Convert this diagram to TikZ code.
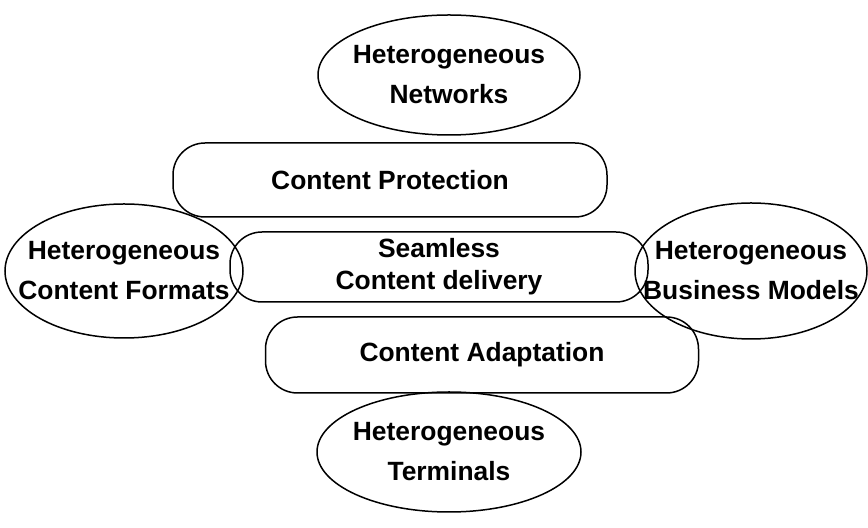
\documentclass[tikz,border=0pt]{standalone}
\usepackage{fontspec}
\setmainfont{Liberation Sans}
\usepackage{tikz}
\usetikzlibrary{shapes.geometric}
\tikzstyle{every path}=[line width=0.75pt]
\tikzstyle{issue}=[ellipse, draw, inner sep=0pt]
\tikzstyle{issue text}=[align=center, font=\fontsize{13.2}{20}\selectfont\bfseries]
\tikzstyle{layer}=[rectangle, draw, rounded corners=16pt, inner sep=0pt, align=center, font=\fontsize{13.2}{16}\selectfont\bfseries]

\begin{document}
\begin{tikzpicture}[x=0.5pt,y=-0.5pt]
\useasboundingbox (0,0) rectangle (868,528);

	% Layers
    \node[layer, minimum width=217pt, minimum height=37pt] (Prot) at (390,180) {Content Protection};
    \node[layer, minimum width=209pt, minimum height=35pt] (Deliv) at (439,267) {Seamless\\Content delivery};
    \node[layer, minimum width=216.5pt, minimum height=38pt] (Adapt) at (482,355) {Content Adaptation};

	% Heterogeneity
    \node[issue, minimum width=131pt, minimum height=60pt, label={[issue text]center:Heterogeneous\\Networks}] (Net) at (449,75) {};
    \node[issue, minimum width=119pt, minimum height=67pt, label={[issue text]center:Heterogeneous\\Content Formats}] (Fmt) at (124,271) {};
    \node[issue, minimum width=116pt, minimum height=68pt, label={[issue text]center:Heterogeneous\\Business Models}] (Biz) at (751,271) {};
    \node[issue, minimum width=132pt, minimum height=60pt, label={[issue text]center:Heterogeneous\\Terminals}] (Term) at (449,452) {};

\end{tikzpicture}
\end{document}
